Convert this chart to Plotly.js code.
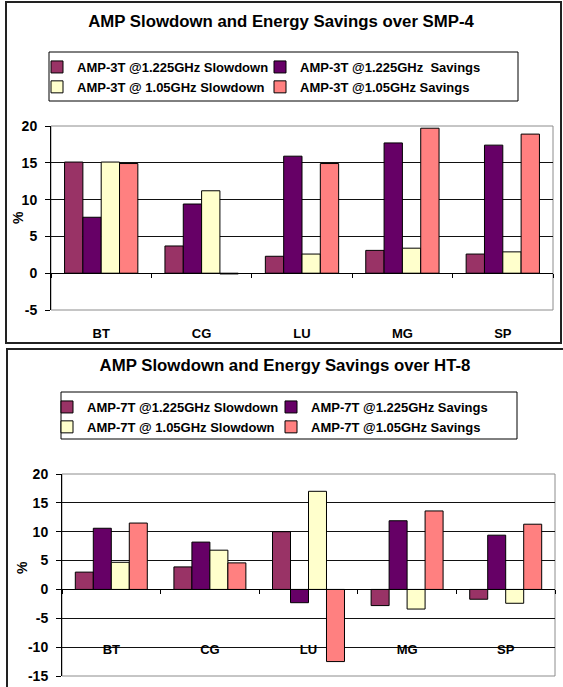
<!DOCTYPE html>
<html><head><meta charset="utf-8">
<script src="https://cdn.plot.ly/plotly-3.0.1.min.js"></script>
<style>
body{margin:0;background:#fff;width:563px;height:687px;overflow:hidden;position:relative}
.chart{position:absolute;left:0;width:563px}
#top{top:0;height:346px}
#bottom{top:346px;height:341px}
.frame{position:absolute;border:2px solid #222;pointer-events:none;box-sizing:border-box}
</style></head><body>
<div id="top" class="chart"></div>
<div id="bottom" class="chart"></div>
<div class="frame" style="left:5px;top:1px;width:557px;height:343px"></div>
<div class="frame" style="left:6px;top:348px;width:600px;height:400px"></div>
<script>
// Benchmarks on the category axis
const categories = ['BT', 'CG', 'LU', 'MG', 'SP'];

// AMP-3T compared with SMP-4 (%)
const smpNames = ['AMP-3T @1.225GHz Slowdown', 'AMP-3T @1.225GHz  Savings',
                  'AMP-3T @ 1.05GHz Slowdown', 'AMP-3T @1.05GHz Savings'];
const smpSlow1225 = [15.1, 3.7, 2.3, 3.1, 2.6];
const smpSave1225 = [7.6, 9.4, 15.9, 17.7, 17.4];
const smpSlow105  = [15.1, 11.2, 2.6, 3.4, 2.9];
const smpSave105  = [14.9, -0.1, 14.9, 19.7, 18.9];

// AMP-7T compared with HT-8 (%)
const htNames = ['AMP-7T @1.225GHz Slowdown', 'AMP-7T @1.225GHz Savings',
                 'AMP-7T @ 1.05GHz Slowdown', 'AMP-7T @1.05GHz Savings'];
const htSlow1225 = [3.0, 3.9, 10.0, -2.8, -1.7];
const htSave1225 = [10.6, 8.2, -2.3, 11.9, 9.4];
const htSlow105  = [4.7, 6.8, 17.0, -3.4, -2.4];
const htSave105  = [11.5, 4.6, -12.5, 13.6, 11.3];

const yTicksTop = [-5, 0, 5, 10, 15, 20];
const yTicksBottom = [-15, -10, -5, 0, 5, 10, 15, 20];

const seriesColors = ['#993366', '#660066', '#FFFFCC', '#FF8080'];
const FONT = 'Arial, "Liberation Sans", sans-serif';

function traces(names, series) {
  return series.map((vals, i) => ({
    type: 'bar', x: categories, y: vals, name: names[i],
    marker: {color: seriesColors[i], line: {color: '#000', width: 1}},
    hoverinfo: 'skip'
  }));
}

// o.box: legend frame in pixels of this chart's div [left, top, right, bottom]
function layout(o) {
  const [lo, hi] = o.range;
  const m = o.margin;
  const pw = 563 - m.l - m.r, ph = o.height - m.t - m.b;
  const px = v => (v - m.l) / pw;
  const py = v => (o.height - m.b - v) / ph;
  return {
    width: 563, height: o.height,
    margin: m,
    paper_bgcolor: '#fff', plot_bgcolor: '#fff',
    showlegend: true,
    barmode: 'group', bargap: 0.27, bargroupgap: 0,
    font: {family: FONT, color: '#000'},
    title: {
      text: o.title, font: {size: 16.8, weight: 'bold', family: FONT},
      xref: 'container', x: o.titleX / 563, xanchor: 'center',
      yref: 'container', y: 1 - o.titleY / o.height, yanchor: 'middle'
    },
    legend: {
      orientation: 'h', xref: 'container', yref: 'container',
      x: o.legX / 563, y: 1 - o.legY / o.height, xanchor: 'left', yanchor: 'top',
      entrywidth: o.entryW, entrywidthmode: 'pixels',
      borderwidth: 0, bgcolor: 'rgba(0,0,0,0)',
      font: {size: 13, weight: 'bold', family: FONT}, traceorder: 'normal'
    },
    xaxis: {
      type: 'category', anchor: 'free', position: (0 - lo) / (hi - lo),
      showline: true, linecolor: '#000', linewidth: 1,
      ticks: 'outside', tickson: 'boundaries', ticklen: 4, tickcolor: '#000',
      tickfont: {size: 13, weight: 'bold', family: FONT},
      ticklabelstandoff: o.labelStandoff,
      showgrid: false, zeroline: false, fixedrange: true
    },
    yaxis: {
      range: [lo, hi], tickvals: o.ticks, ticktext: o.ticks.map(String),
      showline: true, linecolor: '#000', linewidth: 1,
      ticks: 'outside', ticklen: 5, tickcolor: '#000', ticklabelstandoff: 5,
      tickfont: {size: 14, weight: 'bold', family: FONT},
      showgrid: true, gridcolor: '#111', gridwidth: 1,
      zeroline: false, fixedrange: true
    },
    annotations: [{
      text: '%', textangle: -90, showarrow: false,
      xref: 'paper', x: 0, xshift: o.unitShift, xanchor: 'center',
      yref: 'paper', y: o.unitY, yanchor: 'middle',
      font: {size: 14, weight: 'bold', family: FONT}
    }],
    shapes: [{
      type: 'rect', xref: 'paper', yref: 'paper', x0: 0, x1: 1, y0: 0, y1: 1,
      line: {color: '#8c8c8c', width: 1}, layer: 'below'
    }, {
      type: 'rect', xref: 'paper', yref: 'paper',
      x0: px(o.box[0]), x1: px(o.box[2]), y0: py(o.box[3]), y1: py(o.box[1]),
      line: {color: '#000', width: 1}, fillcolor: '#fff', layer: 'below'
    }]
  };
}

Plotly.newPlot('top',
  traces(smpNames, [smpSlow1225, smpSave1225, smpSlow105, smpSave105]),
  layout({
    height: 346, margin: {l: 51, r: 10, t: 126, b: 36},
    range: [-5, 20], ticks: yTicksTop,
    title: 'AMP Slowdown and Energy Savings over SMP-4', titleX: 281, titleY: 21,
    legX: 37, legY: 52, entryW: 178, box: [49, 52, 518, 101],
    labelStandoff: 48, unitShift: -33, unitY: 0.5
  }), {staticPlot: true});

Plotly.newPlot('bottom',
  traces(htNames, [htSlow1225, htSave1225, htSlow105, htSave105]),
  layout({
    height: 341, margin: {l: 62, r: 8, t: 128, b: 11},
    range: [-15, 20], ticks: yTicksBottom,
    title: 'AMP Slowdown and Energy Savings over HT-8', titleX: 285, titleY: 19,
    legX: 47, legY: 46, entryW: 179, box: [61, 46, 517, 93],
    labelStandoff: 48, unitShift: -40, unitY: 0.535
  }), {staticPlot: true});
</script>
</body></html>
